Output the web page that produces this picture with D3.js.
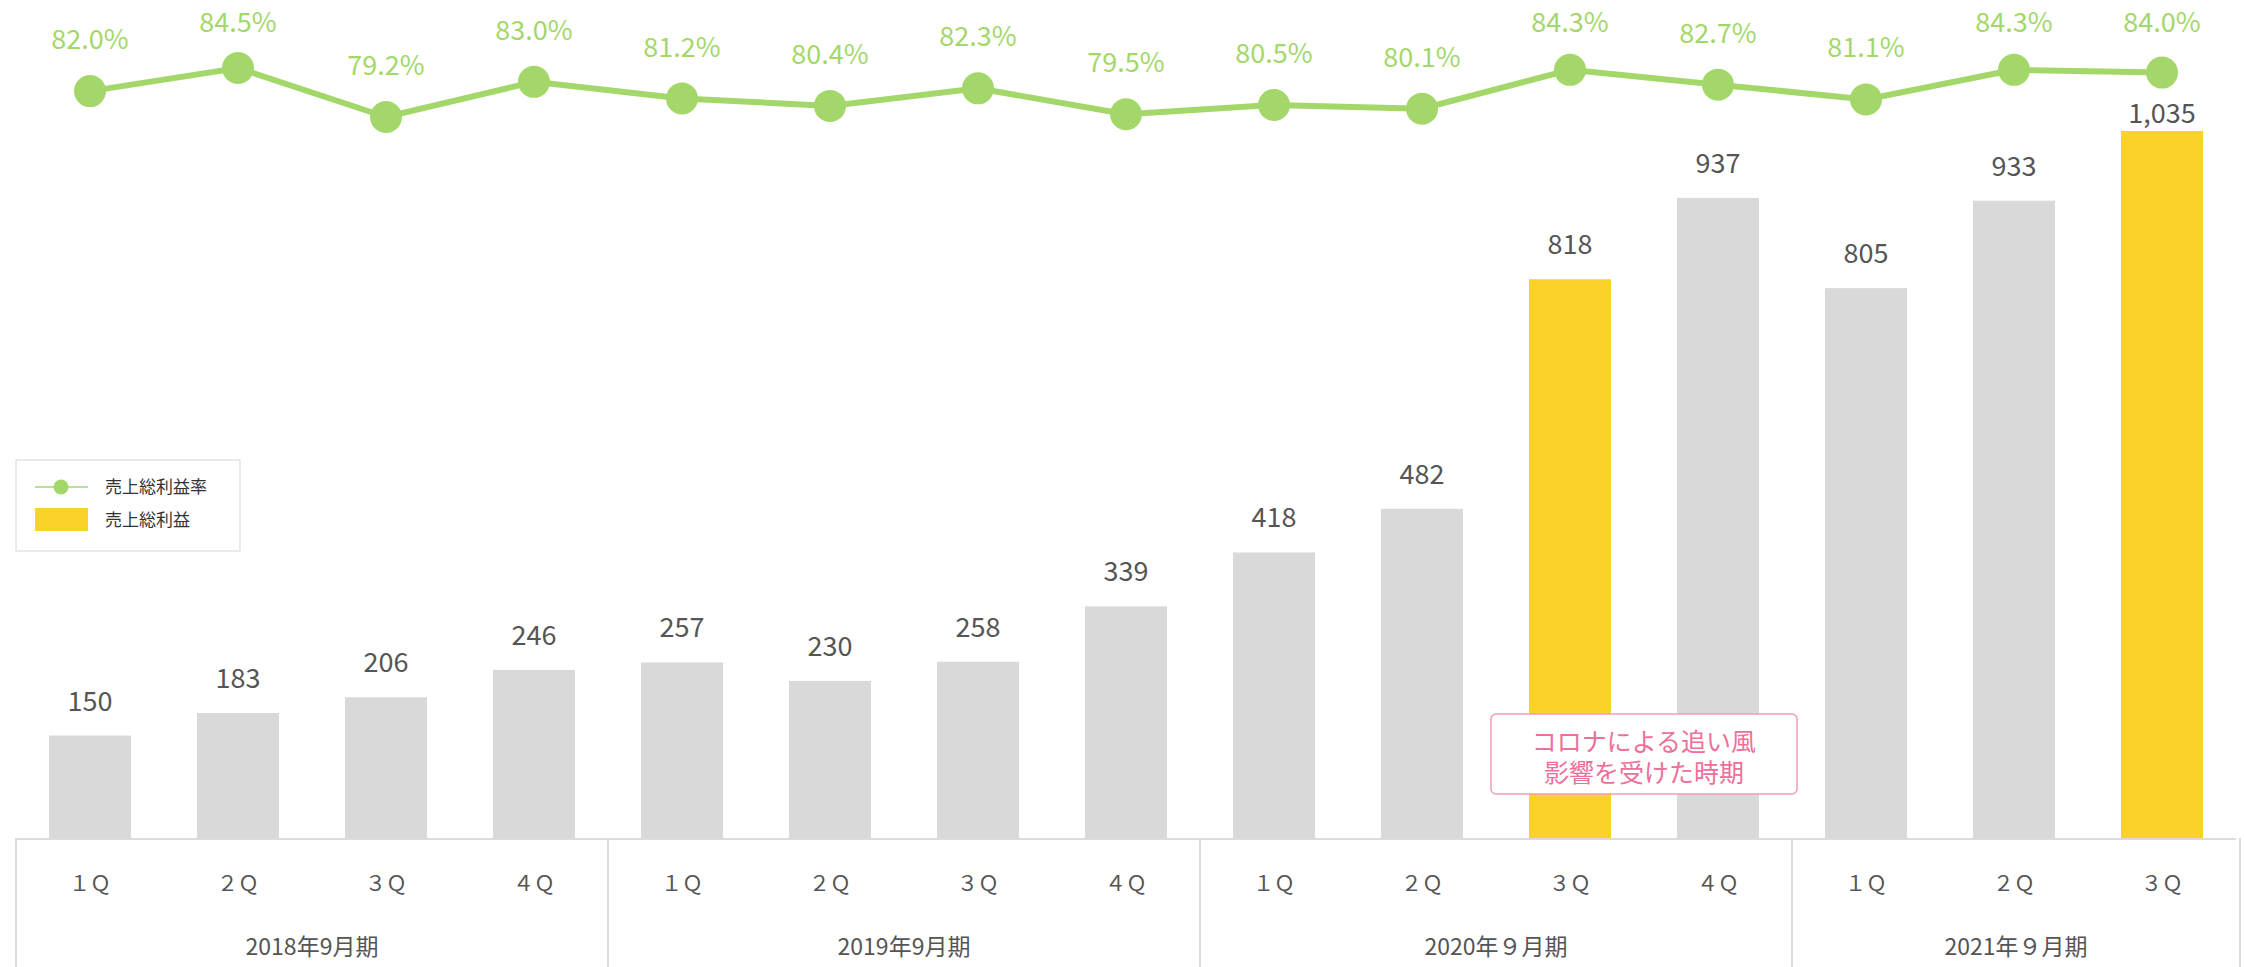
<!DOCTYPE html>
<html>
<head>
<meta charset="utf-8">
<script src="https://cdn.jsdelivr.net/npm/d3@7"></script>
<style>
  body { margin: 0; background: #fff; }
  svg { display: block; font-family: "Noto Sans CJK JP", "Noto Sans", sans-serif; }
</style>
</head>
<body>
<svg id="chart" width="2244" height="967"></svg>
<script>
// Data
const quarters = ['１Ｑ', '２Ｑ', '３Ｑ', '４Ｑ', '１Ｑ', '２Ｑ', '３Ｑ', '４Ｑ', '１Ｑ', '２Ｑ', '３Ｑ', '４Ｑ', '１Ｑ', '２Ｑ', '３Ｑ'];
const fiscalYears = ['2018年9月期', '2019年9月期', '2020年９月期', '2021年９月期'];
const quartersPerYear = [4, 4, 4, 3];
const grossProfit = [150, 183, 206, 246, 257, 230, 258, 339, 418, 482, 818, 937, 805, 933, 1035];
const grossMargin = [82.0, 84.5, 79.2, 83.0, 81.2, 80.4, 82.3, 79.5, 80.5, 80.1, 84.3, 82.7, 81.1, 84.3, 84.0];
const highlighted = [10, 14];   // bars shown in yellow
const legendLabels = ['売上総利益率', '売上総利益'];
const noteLines = ['コロナによる追い風', '影響を受けた時期'];

const W = 2244, H = 967;
const baseY = 838;
const green = '#a4d76a', yellow = '#fbd22a', grey = '#d9d9d9';
const textGrey = '#555';

const svg = d3.select('#chart');
const idx = d3.range(grossProfit.length);

// Scales
const x = d3.scaleBand().domain(idx).range([16, 2236])
  .paddingInner(0.446).paddingOuter(0.223);
const y = d3.scaleLinear().domain([0, 1035]).range([baseY, 131]);
const yPct = d3.scaleLinear().domain([79.2, 84.5]).range([117, 68]);
const cx = i => x(i) + x.bandwidth() / 2;

// Bars
svg.append('g').selectAll('rect').data(idx).join('rect')
  .attr('x', i => x(i))
  .attr('y', i => y(grossProfit[i]))
  .attr('width', x.bandwidth())
  .attr('height', i => baseY - y(grossProfit[i]))
  .attr('fill', i => highlighted.includes(i) ? yellow : grey);

// Bar value labels (kept clear of the margin line)
svg.append('g').selectAll('text').data(idx).join('text')
  .attr('x', cx)
  .attr('y', i => Math.max(y(grossProfit[i]) - 25, yPct(grossMargin[i]) + 50))
  .attr('text-anchor', 'middle')
  .attr('font-size', 27)
  .attr('fill', textGrey)
  .text(i => d3.format(',')(grossProfit[i]));

// Margin line
const line = d3.line().x(cx).y(i => yPct(grossMargin[i]));
svg.append('path').datum(idx)
  .attr('d', line)
  .attr('fill', 'none')
  .attr('stroke', green)
  .attr('stroke-width', 6);

svg.append('g').selectAll('circle').data(idx).join('circle')
  .attr('cx', cx)
  .attr('cy', i => yPct(grossMargin[i]))
  .attr('r', 16)
  .attr('fill', green);

// percentage labels, held below the top edge
svg.append('g').selectAll('text').data(idx).join('text')
  .attr('x', cx)
  .attr('y', i => Math.max(yPct(grossMargin[i]) - 42, 32))
  .attr('text-anchor', 'middle')
  .attr('font-size', 27)
  .attr('fill', green)
  .text(i => grossMargin[i].toFixed(1) + '%');

// Category axis box
const axisG = svg.append('g');
axisG.append('line')
  .attr('x1', x.range()[0]).attr('x2', x.range()[1])
  .attr('y1', baseY + 1).attr('y2', baseY + 1)
  .attr('stroke', '#dcdcdc').attr('stroke-width', 2);

let start = 0;
const bounds = [0];
quartersPerYear.forEach(n => { start += n; bounds.push(start); });
const step = x.step();
const edge = k => x.range()[0] + k * step;

axisG.selectAll('line.sep').data(bounds).join('line')
  .attr('class', 'sep')
  .attr('x1', k => k === grossProfit.length ? x.range()[1] + 4 : edge(k))
  .attr('x2', k => k === grossProfit.length ? x.range()[1] + 4 : edge(k))
  .attr('y1', baseY).attr('y2', H)
  .attr('stroke', '#dcdcdc').attr('stroke-width', 2);

axisG.selectAll('text.q').data(idx).join('text')
  .attr('class', 'q')
  .attr('x', cx)
  .attr('y', 891)
  .attr('text-anchor', 'middle')
  .attr('font-size', 21)
  .attr('fill', textGrey)
  .text(i => quarters[i]);

axisG.selectAll('text.fy').data(fiscalYears).join('text')
  .attr('class', 'fy')
  .attr('x', (d, k) => {
    const a = bounds[k], b = bounds[k + 1];
    const right = b === grossProfit.length ? x.range()[1] + 4 : edge(b);
    return (edge(a) + right) / 2;
  })
  .attr('y', 955)
  .attr('text-anchor', 'middle')
  .attr('font-size', 23)
  .attr('fill', textGrey)
  .text(d => d);

// Legend
const lg = svg.append('g');
lg.append('rect')
  .attr('x', 16).attr('y', 460).attr('width', 224).attr('height', 91)
  .attr('fill', '#fff').attr('stroke', '#e3e3e3').attr('stroke-width', 1.5);
lg.append('line')
  .attr('x1', 35).attr('x2', 88).attr('y1', 487).attr('y2', 487)
  .attr('stroke', green).attr('stroke-width', 1.5);
lg.append('circle').attr('cx', 61).attr('cy', 487).attr('r', 7.5).attr('fill', green);
lg.append('rect')
  .attr('x', 35).attr('y', 508).attr('width', 53).attr('height', 23)
  .attr('fill', yellow);
lg.selectAll('text').data(legendLabels).join('text')
  .attr('x', 105)
  .attr('y', (d, k) => 493 + k * 33)
  .attr('font-size', 17)
  .attr('fill', '#333')
  .text(d => d);

// Annotation
const noteX = x.range()[0] + 11 * step;
const note = svg.append('g');
note.append('rect')
  .attr('x', noteX - 153).attr('y', 714).attr('width', 306).attr('height', 80)
  .attr('rx', 5)
  .attr('fill', '#fff').attr('stroke', '#f39bbb').attr('stroke-width', 1.5);
note.selectAll('text').data(noteLines).join('text')
  .attr('x', noteX)
  .attr('y', (d, k) => 751 + k * 31)
  .attr('text-anchor', 'middle')
  .attr('font-size', 25)
  .attr('fill', '#ec7099')
  .text(d => d);
</script>
</body>
</html>
